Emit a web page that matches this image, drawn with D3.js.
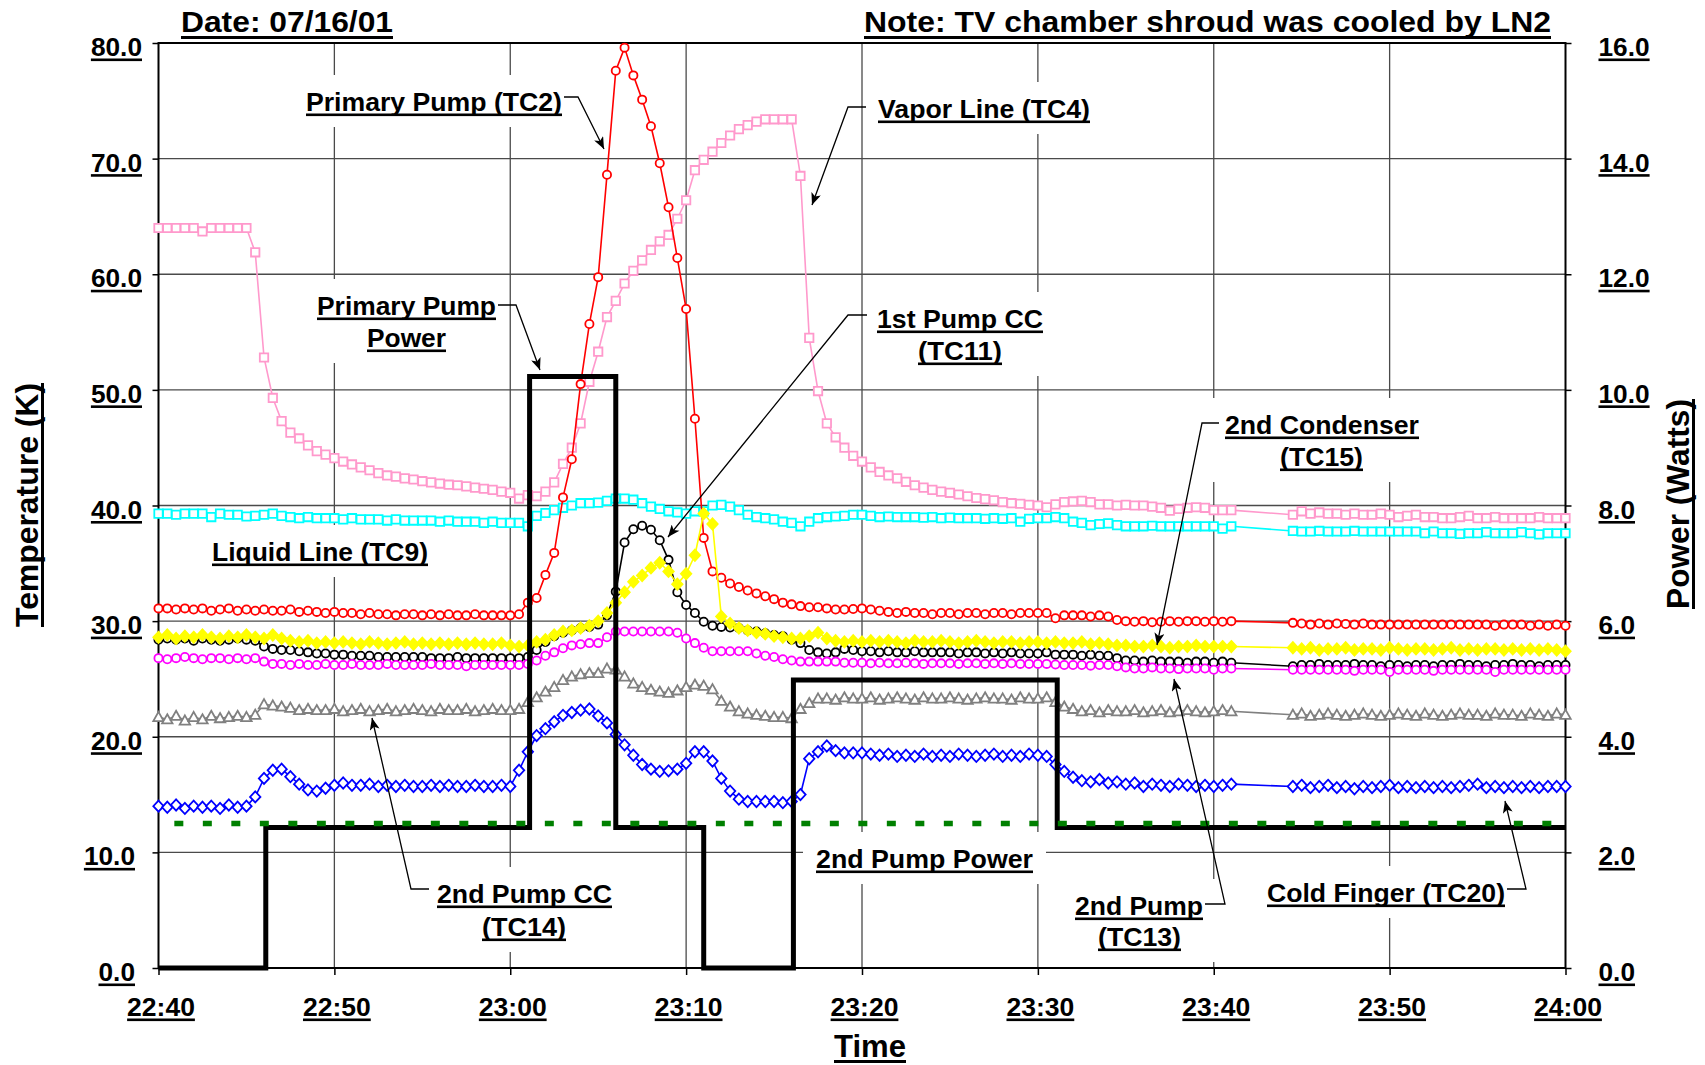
<!DOCTYPE html>
<html><head><meta charset="utf-8">
<script src="https://cdn.jsdelivr.net/npm/d3@7/dist/d3.min.js"></script>
<style>
html,body{margin:0;padding:0;background:#fff;}
svg{display:block;}
text{font-family:"Liberation Sans",Arial,Helvetica,sans-serif;font-weight:bold;fill:#000;}
</style></head><body>
<svg id="chart" width="1705" height="1065"></svg>
<script>
// ================= DATA =================
const timeTickLabels = ["22:40","22:50","23:00","23:10","23:20","23:30","23:40","23:50","24:00"];
const timeTickMinutes = [0,10,20,30,40,50,60,70,80];   // minutes after 22:40
const tempTicks = [0,10,20,30,40,50,60,70,80];
const powerTicks = [0,2,4,6,8,10,12,14,16];

// logger sample times (minutes after 22:40); no data between 23:41 and 23:44:30
const sampleTimes = d3.range(0, 61.001, 0.5).concat(d3.range(64.5, 80.001, 0.5));

const vaporLineTC4 = [
64.0,64.0,64.0,64.0,64.0,63.7,64.0,64.0,64.0,64.0,
64.0,61.9,52.8,49.3,47.3,46.3,45.8,45.2,44.7,44.4,
44.1,43.8,43.55,43.3,43.05,42.8,42.6,42.5,42.35,42.25,
42.1,42.0,41.9,41.8,41.75,41.65,41.55,41.45,41.35,41.2,
41.1,40.6,40.9,40.8,41.2,42.0,43.6,45.0,47.1,50.7,
53.3,56.3,57.7,59.2,60.3,61.2,62.1,62.85,63.4,64.8,
66.4,69.0,69.9,70.6,71.35,72.0,72.55,72.9,73.2,73.4,
73.4,73.4,73.4,68.5,54.5,49.9,47.1,45.9,45.0,44.3,
43.8,43.3,42.9,42.6,42.35,42.05,41.75,41.55,41.35,41.2,
41.1,40.95,40.8,40.65,40.55,40.45,40.3,40.2,40.15,40.05,
40.0,39.85,40.1,40.3,40.35,40.4,40.3,40.1,40.1,40.0,
40.05,40.0,40.0,39.9,39.8,39.55,39.7,39.8,39.85,39.8,
39.6,39.6,39.6,
39.2,39.5,39.3,39.4,39.3,39.3,39.2,39.3,39.2,39.2,
39.3,39.2,39.0,39.1,39.2,39.0,39.0,38.9,38.9,39.0,
39.1,38.9,38.9,39.0,38.9,38.9,38.9,38.9,39.0,38.9,
38.9,38.9];

const liquidLineTC9 = [
39.3,39.3,39.2,39.3,39.3,39.3,39.0,39.3,39.2,39.2,
39.05,39.1,39.2,39.3,39.1,39.0,38.9,39.0,38.9,38.9,
38.9,38.8,38.9,38.8,38.8,38.8,38.7,38.8,38.7,38.7,
38.7,38.7,38.6,38.7,38.6,38.6,38.6,38.5,38.6,38.5,
38.5,38.5,38.2,39.1,39.35,39.6,39.8,40.0,40.2,40.2,
40.25,40.4,40.6,40.6,40.5,40.2,39.9,39.7,39.5,39.4,
39.3,39.5,39.5,40.0,40.05,39.9,39.6,39.2,39.0,38.9,
38.8,38.6,38.5,38.2,38.6,38.9,39.0,39.05,39.1,39.2,
39.2,39.1,39.0,39.05,39.0,39.0,39.0,38.95,39.0,38.9,
38.95,38.9,38.9,38.9,38.85,38.9,38.85,38.9,38.6,38.85,
38.9,38.9,39.0,38.9,38.6,38.5,38.3,38.4,38.45,38.3,
38.2,38.2,38.2,38.25,38.2,38.2,38.2,38.2,38.2,38.2,
38.2,38.0,38.2,
37.8,37.75,37.75,37.8,37.75,37.75,37.75,37.8,37.75,37.75,
37.75,37.75,37.75,37.75,37.75,37.6,37.75,37.6,37.6,37.55,
37.6,37.6,37.7,37.6,37.6,37.6,37.7,37.6,37.5,37.6,
37.6,37.6];

const primaryPumpTC2 = [
31.1,31.1,31.0,31.1,31.0,31.1,30.9,31.0,31.1,30.9,
31.0,30.9,31.0,30.9,30.9,31.0,30.8,30.9,30.8,30.7,
30.8,30.7,30.7,30.6,30.7,30.6,30.6,30.5,30.6,30.6,
30.5,30.6,30.5,30.6,30.5,30.5,30.6,30.5,30.5,30.5,
30.5,30.6,31.6,32.0,34.0,35.9,40.7,44.0,50.5,55.7,
59.75,68.6,77.6,79.6,77.2,75.1,72.8,69.6,65.8,61.4,
57.0,47.5,37.2,34.3,33.75,33.25,32.95,32.65,32.4,32.15,
31.9,31.6,31.45,31.3,31.2,31.2,31.1,31.0,31.0,31.05,
31.1,31.0,30.9,30.8,30.7,30.8,30.7,30.7,30.6,30.7,
30.7,30.6,30.7,30.7,30.6,30.7,30.7,30.6,30.7,30.7,
30.7,30.7,30.25,30.5,30.5,30.5,30.4,30.5,30.4,30.1,
30.0,29.95,30.0,29.9,29.95,30.0,29.95,30.0,30.0,29.95,
30.0,29.95,30.0,
29.85,29.8,29.7,29.8,29.7,29.8,29.75,29.7,29.8,29.7,
29.7,29.7,29.7,29.7,29.7,29.7,29.7,29.7,29.7,29.7,
29.7,29.7,29.7,29.6,29.7,29.7,29.7,29.6,29.7,29.6,
29.7,29.6];

const firstPumpCCTC11 = [
28.4,28.5,28.4,28.5,28.3,28.5,28.4,28.3,28.4,28.5,
28.4,28.3,27.8,27.6,27.5,27.5,27.4,27.3,27.2,27.2,
27.1,27.1,27.0,27.0,27.0,26.9,26.9,26.9,26.9,26.9,
26.9,26.8,26.8,26.8,26.9,26.8,26.8,26.8,26.8,26.8,
26.8,26.8,26.9,27.5,28.2,28.7,29.0,29.2,29.4,29.5,
29.7,30.5,32.55,36.8,37.95,38.25,37.9,37.0,35.3,32.5,
31.4,30.7,29.95,29.6,29.5,29.45,29.4,29.2,29.1,28.95,
28.8,28.7,28.4,28.1,27.5,27.3,27.2,27.3,27.6,27.5,
27.4,27.4,27.3,27.4,27.3,27.3,27.4,27.3,27.3,27.3,
27.3,27.2,27.3,27.3,27.2,27.3,27.2,27.3,27.2,27.2,
27.2,27.3,27.1,27.1,27.1,27.0,27.1,27.0,27.0,26.8,
26.6,26.6,26.5,26.6,26.5,26.5,26.5,26.4,26.5,26.5,
26.4,26.5,26.4,
26.1,26.2,26.2,26.3,26.2,26.2,26.2,26.3,26.2,26.2,
26.1,26.2,26.2,26.1,26.2,26.2,26.1,26.2,26.2,26.3,
26.2,26.2,26.1,26.2,26.2,26.3,26.2,26.2,26.1,26.2,
26.2,26.2];

const secondCondenserTC15 = [
28.6,28.8,28.5,28.7,28.6,28.8,28.6,28.5,28.7,28.6,
28.8,28.6,28.5,28.8,28.5,28.3,28.2,28.3,28.1,28.2,
28.1,28.2,28.1,28.0,28.2,28.1,28.0,28.1,28.2,28.0,
28.1,28.0,28.1,28.0,28.1,28.0,28.1,28.0,28.0,28.1,
27.9,27.8,27.9,28.2,28.4,28.8,29.1,29.2,29.4,29.6,
30.0,30.7,31.6,32.5,33.4,33.95,34.6,35.05,34.3,33.2,
34.1,35.7,39.3,38.4,30.4,29.8,29.4,29.2,29.0,28.9,
28.7,28.6,28.5,28.5,28.7,29.0,28.5,28.3,28.2,28.3,
28.2,28.3,28.2,28.3,28.2,28.1,28.3,28.2,28.2,28.3,
28.2,28.1,28.2,28.3,28.2,28.1,28.2,28.2,28.1,28.2,
28.2,28.1,28.2,28.1,28.1,28.2,28.0,28.1,28.0,27.9,
27.9,27.8,27.8,27.9,27.8,27.7,27.8,27.8,27.9,27.8,
27.8,27.8,27.8,
27.7,27.6,27.7,27.5,27.6,27.6,27.7,27.5,27.6,27.6,
27.5,27.7,27.6,27.5,27.6,27.6,27.5,27.6,27.7,27.5,
27.6,27.5,27.6,27.6,27.5,27.6,27.5,27.6,27.5,27.6,
27.5,27.4];

const secondPumpTC13 = [
26.8,26.7,26.8,26.9,26.8,26.7,26.8,26.8,26.7,26.8,
26.7,26.8,26.5,26.3,26.3,26.2,26.3,26.2,26.2,26.3,
26.2,26.2,26.3,26.2,26.2,26.2,26.3,26.2,26.2,26.2,
26.2,26.3,26.2,26.2,26.2,26.1,26.2,26.2,26.2,26.2,
26.2,26.2,26.3,26.6,27.0,27.3,27.65,27.9,28.0,28.1,
28.1,28.6,29.1,29.1,29.1,29.1,29.1,29.1,29.1,29.0,
28.5,28.1,27.7,27.4,27.4,27.4,27.4,27.4,27.2,27.0,
26.9,26.7,26.6,26.5,26.5,26.5,26.5,26.5,26.4,26.4,
26.4,26.35,26.4,26.35,26.35,26.4,26.35,26.3,26.35,26.35,
26.35,26.3,26.35,26.35,26.3,26.35,26.3,26.35,26.3,26.3,
26.3,26.3,26.25,26.2,26.2,26.2,26.15,26.2,26.2,26.1,
26.0,25.9,25.9,26.0,25.9,25.9,25.85,25.9,25.9,25.9,
25.8,25.9,25.9,
25.8,25.8,25.8,25.8,25.8,25.8,25.8,25.7,25.8,25.8,
25.8,25.6,25.8,25.8,25.8,25.8,25.7,25.8,25.8,25.8,
25.8,25.8,25.8,25.6,25.8,25.8,25.8,25.8,25.8,25.8,
25.8,25.8];

const secondPumpCCTC14 = [
21.7,21.5,21.8,21.4,21.7,21.5,21.8,21.6,21.7,21.8,
21.7,21.9,22.8,22.7,22.6,22.5,22.3,22.4,22.3,22.3,
22.4,22.2,22.3,22.4,22.2,22.3,22.4,22.2,22.3,22.4,
22.3,22.2,22.4,22.3,22.3,22.4,22.2,22.3,22.4,22.3,
22.3,22.4,23.0,23.4,23.9,24.3,24.9,25.2,25.4,25.5,
25.5,25.9,25.8,25.2,24.6,24.3,24.05,23.9,23.8,24.0,
24.3,24.5,24.4,24.1,23.1,22.6,22.2,22.0,21.9,21.8,
21.7,21.7,21.6,22.4,22.9,23.3,23.3,23.2,23.4,23.3,
23.3,23.4,23.2,23.3,23.4,23.3,23.2,23.4,23.3,23.3,
23.4,23.3,23.2,23.3,23.4,23.3,23.3,23.2,23.4,23.3,
23.3,23.4,23.0,22.6,22.4,22.2,22.3,22.1,22.3,22.2,
22.2,22.3,22.1,22.2,22.3,22.1,22.2,22.3,22.2,22.1,
22.2,22.3,22.2,
21.9,22.0,21.8,21.9,22.0,21.9,21.8,21.9,22.0,21.9,
21.8,21.9,22.0,21.9,21.8,22.0,21.9,21.8,21.9,22.0,
21.9,21.9,21.8,22.0,21.9,21.9,21.8,22.0,21.9,21.8,
22.0,21.9];

const coldFingerTC20 = [
14.0,13.9,14.1,13.8,14.0,13.9,14.0,13.8,14.1,13.9,
14.0,14.8,16.4,17.1,17.2,16.55,15.9,15.4,15.3,15.55,
15.8,16.0,15.8,15.8,15.9,15.7,15.8,15.7,15.8,15.7,
15.7,15.8,15.7,15.8,15.7,15.7,15.8,15.7,15.7,15.8,
15.7,17.1,18.7,20.1,20.7,21.3,21.85,22.1,22.3,22.4,
21.8,21.2,20.2,19.3,18.4,17.6,17.2,17.0,17.05,17.2,
17.7,18.7,18.7,17.9,16.4,15.3,14.6,14.4,14.4,14.4,
14.4,14.3,14.4,15.0,18.1,18.7,19.2,18.8,18.6,18.6,
18.6,18.5,18.4,18.5,18.3,18.4,18.3,18.5,18.3,18.4,
18.3,18.5,18.4,18.3,18.4,18.5,18.3,18.4,18.3,18.5,
18.4,18.3,17.6,17.0,16.5,16.2,16.1,16.3,16.0,16.1,
15.9,16.0,15.7,15.9,15.8,15.7,15.9,15.8,15.7,15.8,
15.7,15.8,15.9,
15.7,15.8,15.6,15.7,15.8,15.6,15.7,15.5,15.7,15.6,
15.7,15.8,15.6,15.7,15.6,15.7,15.6,15.7,15.6,15.7,
15.8,15.9,15.6,15.7,15.6,15.7,15.6,15.7,15.6,15.7,
15.7,15.7];

// heater power (W, right axis): primary pump + 2nd pump power, step changes
const powerTimes = [0, 6.1, 21.1, 26.0, 31.0, 36.1, 51.1, 80];
const heaterPowerW = [0, 2.43, 10.23, 2.43, 0, 4.98, 2.43, 2.43];
// green dashed reference power level
const refPowerTimes = [0.9, 80];
const refPowerW = [2.5, 2.5];

// ================= CHART =================
const L = 158.5, R = 1565.5, T = 43, B = 968;
const x = d3.scaleLinear().domain([0, 80]).range([L, R]);
const y = d3.scaleLinear().domain([0, 80]).range([B, T]);
const y2 = d3.scaleLinear().domain([0, 16]).range([B, T]);
const svg = d3.select('#chart');

const defs = svg.append('defs');
defs.append('marker').attr('id','arr').attr('viewBox','0 0 12 10').attr('refX',12).attr('refY',5)
  .attr('markerWidth',13).attr('markerHeight',10).attr('markerUnits','userSpaceOnUse').attr('orient','auto')
  .append('path').attr('d','M0,0 L12,5 L0,10 L3,5 Z').attr('fill','#000');

// grid
const grid = svg.append('g');
grid.selectAll('line.h').data(tempTicks.filter(v => v > 0 && v < 80)).join('line')
  .attr('x1', L).attr('x2', R).attr('y1', d => y(d)).attr('y2', d => y(d))
  .attr('stroke', '#4a4a4a').attr('stroke-width', 1.3);
grid.selectAll('line.v').data(timeTickMinutes.filter(v => v > 0 && v < 80)).join('line')
  .attr('y1', T).attr('y2', B).attr('x1', d => x(d)).attr('x2', d => x(d))
  .attr('stroke', '#4a4a4a').attr('stroke-width', 1.3);

// annotation labels (layout only)
const labels = [
 {lines:[{t:"Primary Pump (TC2)", x:306, y:111, w:256}], leader:[[564,97],[578,97],[604,149]]},
 {lines:[{t:"Vapor Line (TC4)", x:878, y:118, w:212}], leader:[[866,107],[848,107],[812,205]]},
 {lines:[{t:"Primary Pump", x:317, y:315, w:179},{t:"Power", x:367, y:347, w:79}], leader:[[498,305],[516,305],[540,370]]},
 {lines:[{t:"1st Pump CC", x:877, y:328, w:166},{t:"(TC11)", x:918, y:360, w:84}], leader:[[867,315],[848,315],[668,537]]},
 {lines:[{t:"2nd Condenser", x:1225, y:434, w:194},{t:"(TC15)", x:1280, y:466, w:83}], leader:[[1219,423],[1202,423],[1157,645]]},
 {lines:[{t:"Liquid Line (TC9)", x:212, y:561, w:216}]},
 {lines:[{t:"2nd Pump CC", x:437, y:903, w:175},{t:"(TC14)", x:482, y:936, w:84}], leader:[[429,889],[411,889],[372,718]]},
 {lines:[{t:"2nd Pump Power", x:816, y:868, w:217}]},
 {lines:[{t:"2nd Pump", x:1075, y:915, w:128},{t:"(TC13)", x:1098, y:946, w:83}], leader:[[1205,904],[1225,904],[1174,679]]},
 {lines:[{t:"Cold Finger (TC20)", x:1267, y:902, w:238}], leader:[[1507,889],[1526,889],[1505,801]]}
];
const boxes = svg.append('g');
labels.forEach(lb => {
  const x0 = d3.min(lb.lines, l => l.x) - 13, x1 = d3.max(lb.lines, l => l.x + l.w) + 13;
  const y0 = d3.min(lb.lines, l => l.y) - 36, y1 = d3.max(lb.lines, l => l.y) + 16;
  boxes.append('rect').attr('x', x0).attr('y', y0).attr('width', x1 - x0).attr('height', y1 - y0).attr('fill', '#fff');
});

// frame
svg.append('rect').attr('x', L).attr('y', T).attr('width', R - L).attr('height', B - T)
  .attr('fill', 'none').attr('stroke', '#000').attr('stroke-width', 2);

// helper: text with stretch + underline
function addText(parent, str, xx, yb, o) {
  const a = o.anchor || 'start';
  const t = parent.append('text').attr('x', xx).attr('y', yb).attr('text-anchor', a)
    .style('font-size', o.size + 'px').text(str);
  const w0 = t.node().getComputedTextLength();
  const w = o.width || w0 * (o.k || 1.06);
  t.attr('textLength', w).attr('lengthAdjust', 'spacingAndGlyphs');
  const x0 = a === 'end' ? xx - w : a === 'middle' ? xx - w / 2 : xx;
  parent.append('rect').attr('x', x0).attr('y', yb + (o.ul || 2.5)).attr('width', w).attr('height', o.th || 2.6).attr('fill', '#000');
  return t;
}
function restyleTicks(g) {
  g.attr('font-size', null).attr('font-family', null);
  g.select('.domain').remove();
  g.selectAll('.tick line').attr('stroke', '#000').attr('stroke-width', 1.5);
  g.selectAll('.tick text').remove();
}

// left axis
const gL = svg.append('g').attr('transform', `translate(${L},0)`)
  .call(d3.axisLeft(y).tickValues(tempTicks).tickFormat(d3.format('.1f')).tickSize(6));
restyleTicks(gL);
gL.selectAll('.tick').each(function(d) {
  addText(d3.select(this), d3.format('.1f')(d), d <= 10 ? -23.5 : -16.5, 12.5, {anchor:'end', size:25, k:1.05});
});
// right axis
const gR = svg.append('g').attr('transform', `translate(${R},0)`)
  .call(d3.axisRight(y2).tickValues(powerTicks).tickFormat(d3.format('.1f')).tickSize(6));
restyleTicks(gR);
gR.selectAll('.tick').each(function(d) {
  addText(d3.select(this), d3.format('.1f')(d), 33, 12.5, {anchor:'start', size:25, k:1.05});
});
// bottom axis
const gB = svg.append('g').attr('transform', `translate(0,${B})`)
  .call(d3.axisBottom(x).tickValues(timeTickMinutes).tickFormat((d, i) => timeTickLabels[i]).tickSize(7));
restyleTicks(gB);
gB.selectAll('.tick').each(function(d, i) {
  addText(d3.select(this), timeTickLabels[i], 2, 48, {anchor:'middle', size:25, k:1.06});
});

// axis titles
const tl = svg.append('g').attr('transform', 'translate(38,505) rotate(-90)');
addText(tl, 'Temperature (K)', 0, 0, {anchor:'middle', size:31, width:244, ul:3, th:3});
const tr = svg.append('g').attr('transform', 'translate(1689,504) rotate(-90)');
addText(tr, 'Power (Watts)', 0, 0, {anchor:'middle', size:31, width:210, ul:3, th:3});
addText(svg, 'Time', 870, 1057, {anchor:'middle', size:31, width:72, ul:3, th:3});

// titles
addText(svg, 'Date: 07/16/01', 181, 32, {size:30, width:212, ul:4, th:3});
addText(svg, 'Note: TV chamber shroud was cooled by LN2', 864, 32, {size:30, width:687, ul:4, th:3});

// ---- series ----
const markerPaths = {
  square: 'M-4.2,-4.2H4.2V4.2H-4.2Z',
  circle: 'M4.1,0A4.1,4.1 0 1,1 -4.1,0A4.1,4.1 0 1,1 4.1,0Z',
  diamond: 'M0,-5.6L5.2,0L0,5.6L-5.2,0Z',
  triangle: 'M0,-5.2L5.2,4L-5.2,4Z'
};
const series = [
  {name:'Vapor Line (TC4)', values:vaporLineTC4, color:'#FF99CC', marker:'square', fill:'#fff'},
  {name:'Liquid Line (TC9)', values:liquidLineTC9, color:'#00FFFF', marker:'square', fill:'#fff'},
  {name:'Primary Pump (TC2)', values:primaryPumpTC2, color:'#FF0000', marker:'circle', fill:'#fff'},
  {name:'1st Pump CC (TC11)', values:firstPumpCCTC11, color:'#000000', marker:'circle', fill:'#fff'},
  {name:'2nd Pump (TC13)', values:secondPumpTC13, color:'#FF00FF', marker:'circle', fill:'#fff'},
  {name:'2nd Condenser (TC15)', values:secondCondenserTC15, color:'#FFFF00', marker:'diamond', fill:'#FFFF00'},
  {name:'2nd Pump CC (TC14)', values:secondPumpCCTC14, color:'#808080', marker:'triangle', fill:'#fff'},
  {name:'Cold Finger (TC20)', values:coldFingerTC20, color:'#0000FF', marker:'diamond', fill:'#fff'}
];
const warn = [];
const line = d3.line().x(d => x(d[0])).y(d => y(d[1]));
const gS = svg.append('g');
series.forEach(s => {
  if (s.values.length !== sampleTimes.length) warn.push(s.name + ':' + s.values.length);
  const pts = sampleTimes.map((t, i) => [t, s.values[i]]).filter(p => p[1] != null);
  const g = gS.append('g');
  g.append('path').attr('d', line(pts)).attr('fill', 'none').attr('stroke', s.color).attr('stroke-width', 1.6);
  g.selectAll('path.m').data(pts).join('path').attr('class', 'm')
    .attr('transform', d => `translate(${x(d[0])},${y(d[1])})`)
    .attr('d', markerPaths[s.marker]).attr('fill', s.fill).attr('stroke', s.color).attr('stroke-width', 1.8);
});

// power step line
const pLine = d3.line().x(d => x(d[0])).y(d => y2(d[1])).curve(d3.curveStepAfter);
svg.append('path').attr('d', pLine(powerTimes.map((t, i) => [t, heaterPowerW[i]])))
  .attr('fill', 'none').attr('stroke', '#000').attr('stroke-width', 5).attr('stroke-linejoin', 'miter');
const rLine = d3.line().x(d => x(d[0])).y(d => y2(d[1]));
svg.append('path').attr('d', rLine(refPowerTimes.map((t, i) => [t, refPowerW[i]])))
  .attr('fill', 'none').attr('stroke', '#008000').attr('stroke-width', 5.5).attr('stroke-dasharray', '9,19.5');

// leaders and label text
const gA = svg.append('g');
labels.forEach(lb => {
  if (lb.leader) gA.append('path').attr('d', d3.line()(lb.leader)).attr('fill', 'none')
    .attr('stroke', '#000').attr('stroke-width', 1.3).attr('marker-end', 'url(#arr)');
  lb.lines.forEach(l => addText(gA, l.t, l.x, l.y, {size:25, width:l.w}));
});

if (warn.length) svg.append('text').attr('x', 10).attr('y', 1060).style('font-size','14px').style('fill','red').text(warn.join(' | '));
</script>
</body></html>
